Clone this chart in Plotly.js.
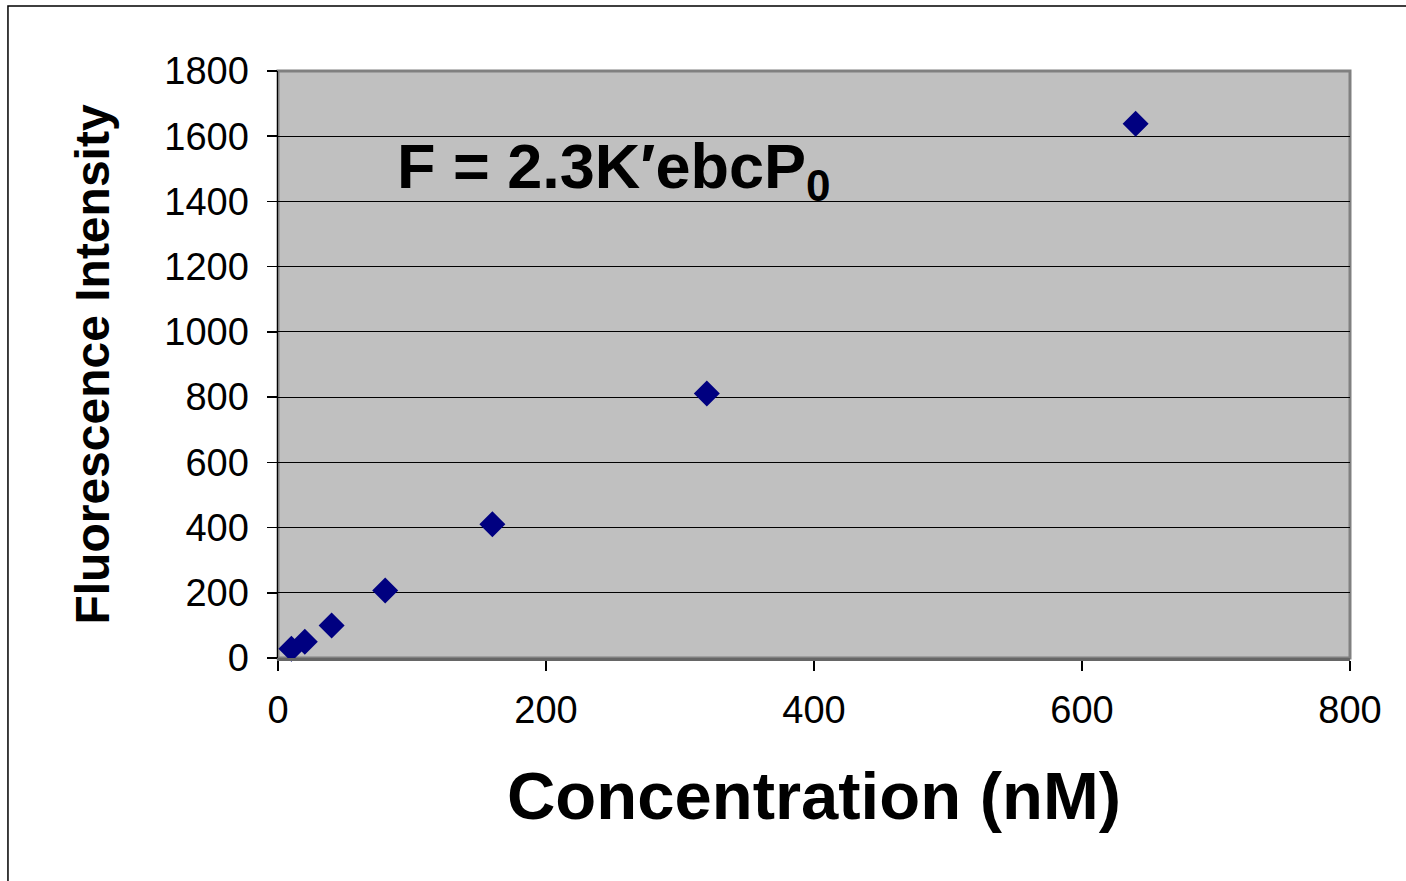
<!DOCTYPE html>
<html>
<head>
<meta charset="utf-8">
<script src="https://cdn.plot.ly/plotly-3.0.1.min.js"></script>
<style>
  html, body { margin: 0; padding: 0; background: #ffffff; }
  #chart { width: 1406px; height: 881px; }
</style>
</head>
<body>
<div id="chart"></div>
<script>
// Data
const concentration = [10, 20, 40, 80, 160, 320, 640];          // nM
const fluorescence  = [28, 50, 100, 207, 410, 811, 1638];       // intensity
const xTicks = [0, 200, 400, 600, 800];
const yTicks = [0, 200, 400, 600, 800, 1000, 1200, 1400, 1600, 1800];
const xTitle = 'Concentration (nM)';
const yTitle = 'Fluorescence Intensity';
const equation = 'F = 2.3K\u2032ebcP<sub>0</sub>';

const FONT = '"Liberation Sans", Arial, sans-serif';

const trace = {
  x: concentration,
  y: fluorescence,
  type: 'scatter',
  mode: 'markers',
  marker: { symbol: 'diamond', size: 20, color: '#000080', line: { width: 0 } },
  cliponaxis: false,
  showlegend: false,
  hoverinfo: 'x+y'
};

const layout = {
  width: 1406,
  height: 881,
  margin: { l: 278, r: 56, t: 71, b: 223, pad: 0 },
  paper_bgcolor: '#ffffff',
  plot_bgcolor: '#c0c0c0',
  font: { family: FONT, color: '#000000' },
  showlegend: false,
  xaxis: {
    range: [0, 800],
    tickvals: xTicks,
    ticktext: xTicks.map(String),
    tickfont: { family: FONT, size: 38, color: '#000000' },
    ticks: 'outside',
    ticklen: 10,
    tickwidth: 1.5,
    tickcolor: '#000000',
    ticklabelstandoff: 6,
    showgrid: false,
    zeroline: false,
    showline: true,
    linecolor: '#666666',
    linewidth: 3,
    automargin: false,
    title: { text: xTitle, font: { family: FONT, size: 67, color: '#000000', weight: 'bold' }, standoff: 43 }
  },
  yaxis: {
    range: [0, 1800],
    tickvals: yTicks,
    ticktext: yTicks.map(String),
    tickfont: { family: FONT, size: 38, color: '#000000' },
    ticks: 'outside',
    ticklen: 10,
    tickwidth: 1.5,
    tickcolor: '#000000',
    ticklabelstandoff: 10,
    showgrid: true,
    gridcolor: '#000000',
    gridwidth: 1,
    zeroline: false,
    showline: true,
    linecolor: '#000000',
    linewidth: 1.5,
    automargin: false,
    title: { text: yTitle, font: { family: FONT, size: 48, color: '#000000', weight: 'bold' }, standoff: 39 }
  },
  shapes: [
    // plot-area border (grey, Excel style)
    { type: 'rect', xref: 'paper', yref: 'paper', x0: 0, x1: 1, y0: 0, y1: 1,
      line: { color: '#808080', width: 3 }, fillcolor: 'rgba(0,0,0,0)', layer: 'below' },
    // outer chart frame
    { type: 'rect', xref: 'paper', yref: 'paper', x0: -0.2519, x1: 1.06, y0: -0.40, y1: 1.1107,
      line: { color: '#000000', width: 1.5 }, fillcolor: 'rgba(0,0,0,0)' }
  ],
  annotations: [
    { text: equation, xref: 'x', yref: 'y', x: 87, y: 1494, xanchor: 'left', yanchor: 'middle',
      showarrow: false, font: { family: FONT, size: 63, color: '#000000', weight: 'bold' } }
  ]
};

Plotly.newPlot('chart', [trace], layout, { displayModeBar: false, staticPlot: true });
</script>
</body>
</html>
